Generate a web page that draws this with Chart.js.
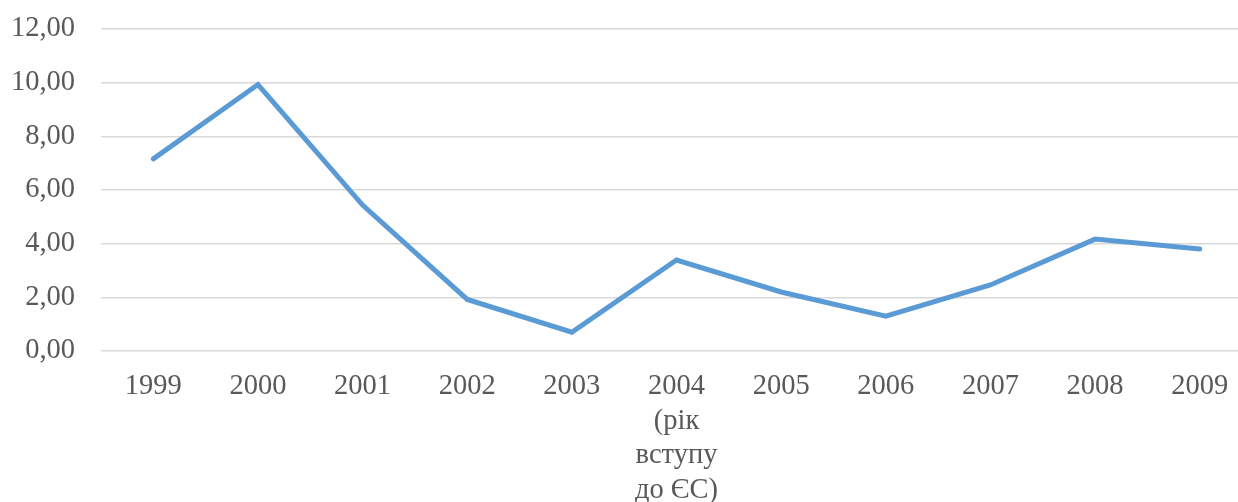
<html>
<head>
<meta charset="utf-8">
<style>
  html, body { margin: 0; padding: 0; overflow: hidden; background: #fff; }
  #wrap { width: 1252px; height: 512px; }
</style>
</head>
<body>
<div id="wrap">
  <canvas id="myChart"></canvas>
</div>

<script src="https://cdn.jsdelivr.net/npm/chart.js"></script>

<script>
  // categories (2004 is split over several lines like the original)
  const years = ['1999', '2000', '2001', '2002', '2003',
    ['2004', '(рік', 'вступу', 'до ЄС)'],
    '2005', '2006', '2007', '2008', '2009'];
  const values = [7.16, 9.93, 5.44, 1.92, 0.70, 3.39, 2.20, 1.30, 2.46, 4.17, 3.80];
  const yTicks = [0, 2, 4, 6, 8, 10, 12];

  const ctx = document.getElementById('myChart');

  const chart = new Chart(ctx, {
    type: 'line',
    data: {
      labels: years,
      datasets: [{
        label: 'value',
        data: values,
        borderColor: '#5B9BD5',
        borderWidth: 5,
        borderCapStyle: 'round',
        borderJoinStyle: 'miter',
        pointRadius: 0,
        tension: 0,
        fill: false
      }]
    },
    options: {
      responsive: true,
      maintainAspectRatio: false,
      animation: false,
      layout: { padding: { left: 0, top: 29, right: 0, bottom: 0 } },
      plugins: {
        legend: { display: false },
        tooltip: { enabled: false }
      },
      scales: {
        x: {
          offset: true,
          grid: { display: false, drawTicks: false },
          border: { display: false },
          afterFit: (axis) => { axis.height = 161; axis.paddingLeft = 0; axis.paddingRight = 0; },
          ticks: {
            color: '#595959',
            padding: 18,
            maxRotation: 0,
            autoSkip: false,
            font: { family: 'Liberation Serif', size: 28.5, lineHeight: 1.22 }
          }
        },
        y: {
          min: 0,
          max: 12,
          afterBuildTicks: (axis) => { axis.ticks = yTicks.map(v => ({ value: v })); },
          afterFit: (axis) => { axis.width = 101; axis.paddingTop = 0; axis.paddingBottom = 0; },
          grid: { color: '#D9D9D9', lineWidth: 1.5, drawTicks: false },
          border: { display: false },
          ticks: {
            color: '#595959',
            padding: 26,
            font: { family: 'Liberation Serif', size: 28.5 },
            callback: (v) => v.toFixed(2).replace('.', ',')
          }
        }
      }
    }
  });
</script>
</body>
</html>
